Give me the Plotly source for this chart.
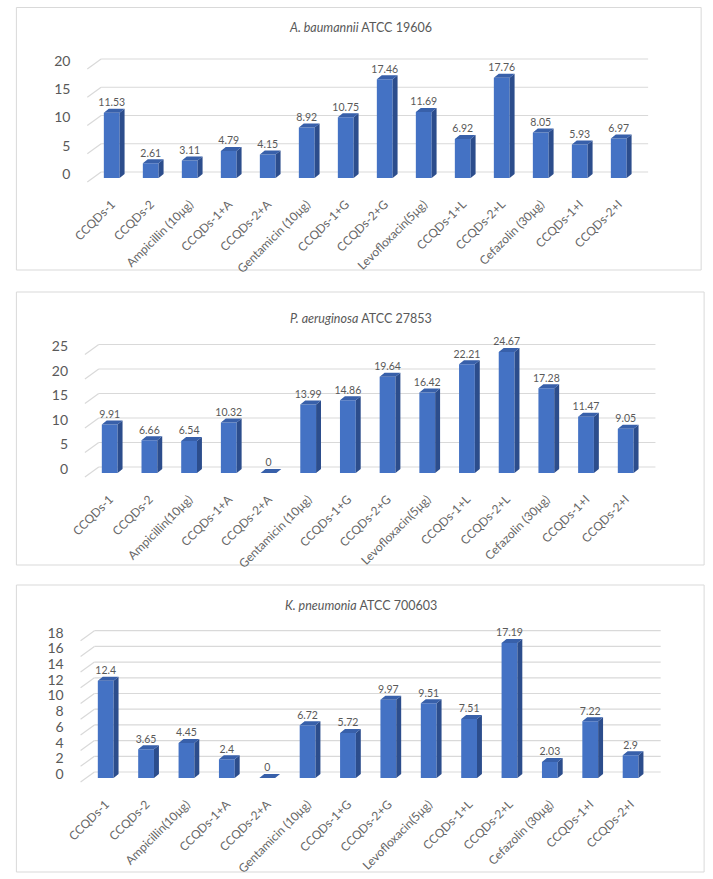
import plotly.graph_objects as go

W, H = 713, 879

# ---------------- data ----------------
categories_a = ["CCQDs-1", "CCQDs-2", "Ampicillin (10μg)", "CCQDs-1+A", "CCQDs-2+A",
                "Gentamicin (10μg)", "CCQDs-1+G", "CCQDs-2+G", "Levofloxacin(5μg)",
                "CCQDs-1+L", "CCQDs-2+L", "Cefazolin (30μg)", "CCQDs-1+I", "CCQDs-2+I"]
categories_pk = ["CCQDs-1", "CCQDs-2", "Ampicillin(10μg)", "CCQDs-1+A", "CCQDs-2+A",
                 "Gentamicin (10μg)", "CCQDs-1+G", "CCQDs-2+G", "Levofloxacin(5μg)",
                 "CCQDs-1+L", "CCQDs-2+L", "Cefazolin (30μg)", "CCQDs-1+I", "CCQDs-2+I"]

values_baumannii = [11.53, 2.61, 3.11, 4.79, 4.15, 8.92, 10.75, 17.46, 11.69, 6.92, 17.76, 8.05, 5.93, 6.97]
values_aeruginosa = [9.91, 6.66, 6.54, 10.32, 0, 13.99, 14.86, 19.64, 16.42, 22.21, 24.67, 17.28, 11.47, 9.05]
values_pneumonia = [12.4, 3.65, 4.45, 2.4, 0, 6.72, 5.72, 9.97, 9.51, 7.51, 17.19, 2.03, 7.22, 2.9]

yticks_baumannii = [0, 5, 10, 15, 20]
yticks_aeruginosa = [0, 5, 10, 15, 20, 25]
yticks_pneumonia = [0, 2, 4, 6, 8, 10, 12, 14, 16, 18]

titles = ["<i>A. baumannii</i> ATCC 19606",
          "<i>P. aeruginosa</i> ATCC 27853",
          "<i>K. pneumonia</i> ATCC 700603"]

# ---------------- styling / layout geometry (pixels) ----------------
FRONT = "#4472C4"
SIDE = "#2C4D8C"
TOP = "#3860AA"
GRID = "#D9D9D9"
TXT = "#595959"
LBL = "#666666"
FONT = "Lato"

panels = [
    dict(cats=categories_a, vals=values_baumannii, ticks=yticks_baumannii, title=titles[0],
         L=84.3, R=637.3, y0=178.0, s=5.65, box=(7.5, 7.5, 701, 270), ty=28),
    dict(cats=categories_pk, vals=values_aeruginosa, ticks=yticks_aeruginosa, title=titles[1],
         L=81.9, R=644.7, y0=473.0, s=4.9, box=(7.5, 292, 704, 565), ty=318),
    dict(cats=categories_pk, vals=values_pneumonia, ticks=yticks_pneumonia, title=titles[2],
         L=77.5, R=650.0, y0=778.0, s=7.85, box=(7.5, 585, 704, 872), ty=605),
]

BAR_PX = 16      # front face width
DEP_X, DEP_Y = 5, 4   # bar depth offset
BACK_X0, BACK_X1, BACK_Y = 9, 10, 6   # back wall offset
FRONT_X, FRONT_Y = -5, 4              # side wall front edge offset

fig = go.Figure()
shapes = []
annotations = []
layout_axes = {}

for n, p in enumerate(panels, start=1):
    xs = "x" if n == 1 else f"x{n}"
    ys = "y" if n == 1 else f"y{n}"
    xa = "xaxis" if n == 1 else f"xaxis{n}"
    ya = "yaxis" if n == 1 else f"yaxis{n}"

    ncat = len(p["cats"])
    pxx = (p["R"] - p["L"]) / ncat
    s = p["s"]
    dx = lambda v: v / pxx
    dy = lambda v: v / s
    ymax = max(p["ticks"])

    # axis ranges / domains derived from pixel geometry
    padL, padR, padB = 12, 16, 8
    xr = [-0.5 - dx(padL), ncat - 0.5 + dx(padR)]
    xdom = [(p["L"] - padL) / W, (p["R"] + padR) / W]
    ytop_val = ymax + 3
    yr = [-dy(padB), ytop_val]
    ydom = [(H - (p["y0"] + padB)) / H, (H - (p["y0"] - ytop_val * s)) / H]

    layout_axes[xa] = dict(domain=xdom, range=xr, anchor=ys, type="linear",
                           tickvals=list(range(ncat)), ticktext=p["cats"], tickangle=-45,
                           showgrid=False, zeroline=False, showline=False, ticks="",
                           tickfont=dict(family=FONT, size=12, color=LBL),
                           ticklabelstandoff=8, fixedrange=True)
    layout_axes[ya] = dict(domain=ydom, range=yr, anchor=xs,
                           tickvals=p["ticks"], showgrid=False, zeroline=False, showline=False,
                           ticks="", tickfont=dict(family=FONT, size=14, color=TXT),
                           ticklabelshift=-4, ticklabelstandoff=9, fixedrange=True)

    # back-wall gridlines and side-wall diagonals
    for t in p["ticks"]:
        shapes.append(dict(type="line", xref=xs, yref=ys, layer="below",
                           x0=-0.5 + dx(BACK_X0), x1=ncat - 0.5 + dx(BACK_X1),
                           y0=t + dy(BACK_Y), y1=t + dy(BACK_Y),
                           line=dict(color=GRID, width=1.2)))
        shapes.append(dict(type="line", xref=xs, yref=ys, layer="below",
                           x0=-0.5 + dx(FRONT_X), y0=t - dy(FRONT_Y),
                           x1=-0.5 + dx(BACK_X0), y1=t + dy(BACK_Y),
                           line=dict(color=GRID, width=1.2)))

    w = dx(BAR_PX)
    xs_idx = list(range(ncat))
    # front faces
    fig.add_trace(go.Bar(x=xs_idx, y=p["vals"], width=w, marker=dict(color=FRONT, line=dict(width=0)),
                         xaxis=xs, yaxis=ys, showlegend=False, hoverinfo="skip"))
    # side and top faces
    sx, sy = [], []
    tx, ty = [], []
    for i, v in zip(xs_idx, p["vals"]):
        r = i + w / 2
        l = i - w / 2
        if v > 0:
            sx += [r, r + dx(DEP_X), r + dx(DEP_X), r, r, None]
            sy += [0, dy(DEP_Y), v + dy(DEP_Y), v, 0, None]
        tx += [l, l + dx(DEP_X), r + dx(DEP_X), r, l, None]
        ty += [v, v + dy(DEP_Y), v + dy(DEP_Y), v, v, None]
    fig.add_trace(go.Scatter(x=sx, y=sy, mode="lines", fill="toself", fillcolor=SIDE,
                             line=dict(width=0, color=SIDE), xaxis=xs, yaxis=ys,
                             showlegend=False, hoverinfo="skip", cliponaxis=False))
    fig.add_trace(go.Scatter(x=tx, y=ty, mode="lines", fill="toself", fillcolor=TOP,
                             line=dict(width=0, color=TOP), xaxis=xs, yaxis=ys,
                             showlegend=False, hoverinfo="skip", cliponaxis=False))
    # data labels
    fig.add_trace(go.Scatter(x=xs_idx, y=[v + dy(DEP_Y) for v in p["vals"]], mode="text",
                             text=[f"{v:g}" for v in p["vals"]], textposition="top center",
                             textfont=dict(family=FONT, size=10.5, color=TXT),
                             xaxis=xs, yaxis=ys, showlegend=False, hoverinfo="skip",
                             cliponaxis=False))

    # panel border
    x0b, y0b, x1b, y1b = p["box"]
    shapes.append(dict(type="rect", xref="paper", yref="paper", layer="below",
                       x0=x0b / W, x1=x1b / W, y0=1 - y1b / H, y1=1 - y0b / H,
                       line=dict(color=GRID, width=1), fillcolor="rgba(0,0,0,0)"))
    # title
    annotations.append(dict(text=p["title"], xref="paper", yref="paper",
                            x=356 / W, y=1 - p["ty"] / H, xanchor="center", yanchor="middle",
                            showarrow=False, font=dict(family=FONT, size=12.5, color=TXT)))

fig.update_layout(width=W, height=H, margin=dict(l=0, r=0, t=0, b=0),
                  paper_bgcolor="white", plot_bgcolor="rgba(0,0,0,0)",
                  barmode="overlay", showlegend=False,
                  shapes=shapes, annotations=annotations, **layout_axes)

fig.write_html("out.html")
